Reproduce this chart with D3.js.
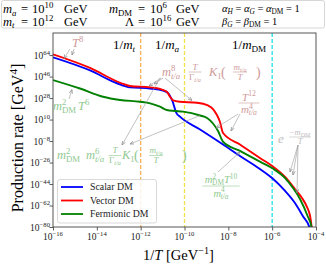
<!DOCTYPE html>
<html><head><meta charset="utf-8">
<script src="https://cdn.jsdelivr.net/npm/d3@7"></script>
<style>
body{margin:0;background:#fff;}
svg{display:block;font-family:"Liberation Serif","DejaVu Serif",serif;}
</style>
</head><body>
<svg id="c" width="326" height="268"></svg>
<script>
// ---------------- data (log10 values) ----------------
const xTickExp = [-16, -14, -12, -10, -8, -6, -4];
const yTickExp = [-80, -62, -44, -26, -8, 10, 28, 46, 64];
const legendLabels = ["Scalar DM", "Vector DM", "Fermionic DM"];
const seriesColors = ["#0000ff", "#ff0000", "#008000"];

const scalarInvTExp = [-16, -14.31, -13.08, -12.49, -11.57, -10.98, -10.75, -10.57, -10.36, -10.21, -9.29, -8.38, -7.47, -6.56, -5.99, -5.41, -4.96, -4.58, -4.31, -4.23];
const scalarRateExp = [62.1, 51.1, 40.4, 37.0, 36.0, 34.3, 32.2, 26.4, 15.2, 12.4, 1.7, -9.2, -20.5, -31.4, -39.2, -49.8, -59.9, -71.4, -79.7, -99.3];

const vectorInvTExp = [-16, -14.31, -12.90, -12.49, -11.57, -11.12, -10.81, -10.66, -10.52, -10.21, -9.43, -8.93, -8.70, -8.52, -8.38, -8.24, -7.47, -6.56, -6.00, -5.41, -4.96, -4.64, -4.41, -4.27, -4.20, -4.11];
const vectorRateExp = [64.6, 53.2, 40.6, 38.1, 37.0, 35.7, 33.3, 29.1, 26.1, 24.9, 24.1, 21.8, 18.8, 13.8, 7.9, -1.3, -10.9, -22.2, -28.9, -38.1, -48.2, -55.7, -63.3, -70.8, -79.7, -99.3];

const fermionInvTExp = [-16, -14.77, -13.72, -12.94, -12.03, -11.57, -11.12, -10.81, -10.43, -10.07, -9.29, -8.97, -8.70, -8.47, -8.24, -7.47, -6.56, -5.99, -5.41, -5.05, -4.73, -4.37, -4.21, -4.14];
const fermionRateExp = [43.1, 36.0, 29.1, 26.4, 24.9, 23.6, 20.8, 18.0, 17.2, 16.6, 13.4, 11.3, 6.7, 0.4, -8.6, -16.3, -25.3, -30.8, -39.0, -47.3, -56.5, -71.4, -79.7, -99.3];

const vlineExp = [-12, -10, -6];
const vlineColors = ["#f9b05a", "#f2e34a", "#22e0ee"];

// ---------------- layout ----------------
const svg = d3.select("#c");
const L = 53, R = 316, T = 33, B = 227;
const x = d3.scaleLog().domain([1e-16, 1e-4]).range([L, R]);
const y = d3.scaleLog().domain([1e-80, Math.pow(10, 82.5)]).range([B, T]);

const defs = svg.append("defs");
defs.append("clipPath").attr("id", "clip").append("rect")
  .attr("x", L).attr("y", T).attr("width", R - L).attr("height", B - T);
defs.append("marker").attr("id", "ah").attr("viewBox", "0 0 6 6")
  .attr("refX", 6).attr("refY", 3).attr("markerWidth", 4).attr("markerHeight", 4)
  .attr("markerUnits", "userSpaceOnUse").attr("orient", "auto")
  .append("path").attr("d", "M0,0.6 L6,3 L0,5.4").attr("fill", "none")
  .attr("stroke", "#888").attr("stroke-width", 1);

// rich text helper: segs = [[text, flags, dx]] flags: i italic, ^ sup, _ sub
function rich(parent, px, py, segs, o) {
  const size = o.size || 11;
  const t = parent.append("text").attr("x", px).attr("y", py)
    .attr("font-size", size).attr("fill", o.color || "#000")
    .attr("text-anchor", o.anchor || "start");
  let cur = 0;
  segs.forEach(s => {
    const f = s[1] || "";
    let off = 0, fs = size;
    if (f.includes("^")) { off = -0.4 * size; fs = size * 0.7; }
    if (f.includes("_")) { off = 0.22 * size; fs = size * 0.7; }
    const sp = t.append("tspan").attr("dy", off - cur).attr("font-size", fs).text(s[0]);
    if (f.includes("i")) sp.attr("font-style", "italic");
    if (s[2]) sp.attr("dx", s[2]);
    cur = off;
  });
  return t;
}
function frac(parent, cx, yb, num, den, o) {
  const up = o.up != null ? o.up : o.size * 0.24;
  const dn = o.dn != null ? o.dn : o.size * 0.84;
  const n = rich(parent, cx, yb - up, num, Object.assign({}, o, {anchor: "middle"}));
  const d = rich(parent, cx, yb + dn, den, Object.assign({}, o, {anchor: "middle"}));
  const w = Math.max(n.node().getComputedTextLength(), d.node().getComputedTextLength()) + 1;
  parent.append("line").attr("x1", cx - w / 2).attr("x2", cx + w / 2)
    .attr("y1", yb).attr("y2", yb).attr("stroke", o.color).attr("stroke-width", 0.6);
}

// ---------------- header box ----------------
const hd = svg.append("g");
hd.append("rect").attr("x", 1.5).attr("y", 0.5).attr("width", 323).attr("height", 27.5)
  .attr("rx", 2).attr("fill", "#fff").attr("stroke", "#ccc").attr("stroke-width", 0.8);
const hs = {size: 12.5};
const r1 = 13, r2 = 25.5;
rich(hd, 3, r1, [["m", "i"], ["a", "i_"]], hs);
rich(hd, 21, r1, [["=", ""]], hs);
rich(hd, 32, r1, [["10", ""], ["10", "^"]], hs);
rich(hd, 64, r1, [["GeV", ""]], hs);
rich(hd, 109, r1, [["m", "i"], ["DM", "_"]], hs);
rich(hd, 138, r1, [["=", ""]], hs);
rich(hd, 150, r1, [["10", ""], ["6", "^"]], hs);
rich(hd, 176, r1, [["GeV", ""]], hs);
rich(hd, 222, 12, [["α", "i"], ["H", "i_"], [" = ", ""], ["α", "i"], ["G", "i_"], [" = ", ""], ["α", "i"], ["DM", "_"], [" = 1", ""]], {size: 10.5});
rich(hd, 3, r2, [["m", "i"], ["t", "i_"]], hs);
rich(hd, 21, r2, [["=", ""]], hs);
rich(hd, 32, r2, [["10", ""], ["12", "^"]], hs);
rich(hd, 64, r2, [["GeV", ""]], hs);
rich(hd, 125, r2, [["Λ", ""]], hs);
rich(hd, 138, r2, [["=", ""]], hs);
rich(hd, 150, r2, [["10", ""], ["16", "^"]], hs);
rich(hd, 176, r2, [["GeV", ""]], hs);
rich(hd, 222, 24.5, [["β", "i"], ["G", "i_"], [" = ", ""], ["β", "i"], ["DM", "_"], [" = 1", ""]], {size: 10.5});

// ---------------- vertical dashed lines ----------------
svg.append("g").selectAll("line").data(vlineExp).join("line")
  .attr("x1", d => x(Math.pow(10, d))).attr("x2", d => x(Math.pow(10, d)))
  .attr("y1", T).attr("y2", B)
  .attr("stroke", (d, i) => vlineColors[i]).attr("stroke-width", 1.3)
  .attr("stroke-dasharray", "4,2");

// ---------------- curves ----------------
const series = [
  {xs: scalarInvTExp, ys: scalarRateExp},
  {xs: vectorInvTExp, ys: vectorRateExp},
  {xs: fermionInvTExp, ys: fermionRateExp}
];
const line = d3.line().x(d => x(d[0])).y(d => y(d[1])).curve(d3.curveMonotoneX);
const cg = svg.append("g").attr("clip-path", "url(#clip)");
series.forEach((s, i) => {
  const pts = s.xs.map((v, j) => [Math.pow(10, v), Math.pow(10, s.ys[j])]);
  cg.append("path").datum(pts).attr("d", line).attr("fill", "none")
    .attr("stroke", seriesColors[i]).attr("stroke-width", 1.9)
    .attr("stroke-linejoin", "round");
});

// ---------------- axes ----------------
const fmtSup = e => (e < 0 ? "\u2212" + (-e) : String(e));
const ax = svg.append("g").attr("transform", `translate(0,${B})`)
  .call(d3.axisBottom(x).tickValues(xTickExp.map(e => Math.pow(10, e))).tickSize(3.5).tickFormat(""));
const ay = svg.append("g").attr("transform", `translate(${L},0)`)
  .call(d3.axisLeft(y).tickValues(yTickExp.map(e => Math.pow(10, e))).tickSize(3.5).tickFormat(""));
[ax, ay].forEach(a => { a.select(".domain").remove(); a.selectAll("line").attr("stroke", "#333").attr("stroke-width", 0.8); });
svg.append("rect").attr("x", L).attr("y", T).attr("width", R - L).attr("height", B - T)
  .attr("fill", "none").attr("stroke", "#444").attr("stroke-width", 0.9);

xTickExp.forEach(e => {
  rich(svg, x(Math.pow(10, e)), 240, [["10", ""], [fmtSup(e), "^"]], {size: 9.5, anchor: "middle", color: "#222"});
});
yTickExp.forEach(e => {
  rich(svg, 50, y(Math.pow(10, e)) + 3.5, [["10", ""], [fmtSup(e), "^"]], {size: 9.5, anchor: "end", color: "#222"});
});

// axis titles
rich(svg, 143, 260, [["1/", ""], ["T", "i"], ["  [GeV", ""], ["\u22121", "^"], ["]", ""]], {size: 14.5});
const yl = rich(svg, 0, 0, [["Production rate  [GeV", ""], ["4", "^"], ["]", ""]], {size: 16, anchor: "middle"});
yl.attr("transform", "translate(23,138) rotate(-90)");

// ---------------- vertical line labels ----------------
rich(svg, 113, 49, [["1/", ""], ["m", "i"], ["t", "i_"]], {size: 13});
rich(svg, 155, 49, [["1/", ""], ["m", "i"], ["a", "i_"]], {size: 13});
rich(svg, 232, 49, [["1/", ""], ["m", "i"], ["DM", "_"]], {size: 13});

// ---------------- annotations ----------------
const an = svg.append("g");
const vcol = "#cf9a9a", gcol = "#90c990", ecol = "#bdbdbd";
function arrow(x1, y1, x2, y2) {
  an.append("line").attr("x1", x1).attr("y1", y1).attr("x2", x2).attr("y2", y2)
    .attr("stroke", "#999").attr("stroke-width", 0.6).attr("marker-end", "url(#ah)");
}
// T^8
rich(an, 72, 47, [["T", "i"], ["8", "^"]], {size: 12.5, color: vcol});
arrow(70, 49, 64, 58.5); arrow(74, 49, 72, 55);
// m_DM^2 T^6
rich(an, 53, 110, [["m", "i"], ["2", "^"], ["DM", "_", -4.5]], {size: 12.5, color: gcol});
rich(an, 78, 110, [["T", "i"], ["6", "^"]], {size: 12.5, color: gcol});
arrow(69, 99, 72, 89.5);
// vector resonant label
rich(an, 162, 76, [["m", "i"], ["8", "^"], ["t/a", "i_", -4.5]], {size: 12.5, color: vcol});
frac(an, 195, 72, [["T", "i"]], [["Γ", ""], ["t/a", "i_"]], {size: 9, color: vcol});
rich(an, 209, 76, [["K", "i"], ["1", "_"]], {size: 12.5, color: vcol});
rich(an, 221, 77, [["(", ""]], {size: 14, color: vcol});
frac(an, 240, 72, [["m", "i"], ["t/a", "i_"]], [["T", "i"]], {size: 9, color: vcol});
rich(an, 256, 77, [[")", ""]], {size: 14, color: vcol});
arrow(161, 78, 149, 86); arrow(163, 78, 154, 84); arrow(165, 78, 192, 100.5);
// T^12 / m^4
frac(an, 249, 103, [["T", "i"], ["12", "^"]], [["m", "i"], ["4", "^"], ["t/a", "i_", -4]], {size: 11, color: vcol, up: 2.5, dn: 10});
arrow(238, 114, 216, 128); arrow(240, 114, 231, 131);
// green resonant label
rich(an, 57, 159, [["m", "i"], ["2", "^"], ["DM", "_", -4.5]], {size: 12.5, color: gcol});
rich(an, 86, 159, [["m", "i"], ["6", "^"], ["t/a", "i_", -4.5]], {size: 12.5, color: gcol});
frac(an, 115, 155.5, [["T", "i"]], [["Γ", ""], ["t/a", "i_"]], {size: 9, color: gcol});
rich(an, 122, 159, [["K", "i"], ["1", "_"]], {size: 12.5, color: gcol});
rich(an, 134, 160, [["(", ""]], {size: 14, color: gcol});
frac(an, 156, 155.5, [["m", "i"], ["t/a", "i_"]], [["T", "i"]], {size: 9, color: gcol});
rich(an, 182, 160, [[")", ""]], {size: 14, color: gcol});
arrow(160, 78, 122, 145); arrow(200, 115.5, 130, 144);
// green T^10 fraction
frac(an, 221, 186, [["m", "i"], ["2", "^"], ["DM", "_", -4], ["T", "i"], ["10", "^"]], [["m", "i"], ["4", "^"], ["t/a", "i_", -4]], {size: 10.5, color: gcol, up: 3.2, dn: 10.5});
arrow(218, 172, 240, 152);
// exponential label
rich(an, 278, 143, [["e", "i"]], {size: 13, color: ecol});
frac(an, 300, 137, [["\u2212", ""], ["m", "i"], ["DM", "_"]], [["T", "i"]], {size: 8.5, color: ecol});
arrow(298, 145, 290, 172); arrow(298, 145, 293, 175); arrow(298, 145, 297, 193);

// ---------------- legend ----------------
const lg = svg.append("g");
lg.append("rect").attr("x", 57.5).attr("y", 179.5).attr("width", 99).attr("height", 43.5)
  .attr("rx", 2.5).attr("fill", "#fff").attr("fill-opacity", 0.85)
  .attr("stroke", "#cfcfcf").attr("stroke-width", 0.8);
const lgY = [187, 200.5, 214];
legendLabels.forEach((lab, i) => {
  lg.append("line").attr("x1", 61).attr("x2", 83).attr("y1", lgY[i]).attr("y2", lgY[i])
    .attr("stroke", seriesColors[i]).attr("stroke-width", 1.8);
  lg.append("text").attr("x", 90).attr("y", lgY[i] + 3.4).attr("font-size", 9.8)
    .attr("fill", "#222").text(lab);
});
</script>
</body></html>
